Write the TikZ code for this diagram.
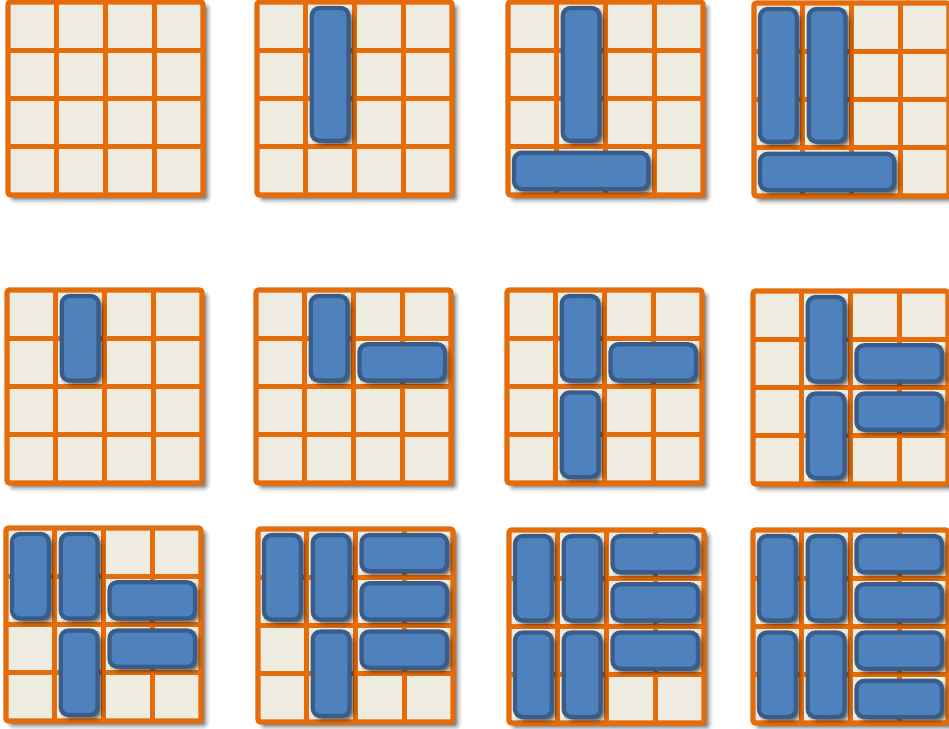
\documentclass[tikz,border=0pt]{standalone}
\usepackage{tikz}
\usetikzlibrary{shadows.blur}
\definecolor{gridorange}{HTML}{E46C0A}
\definecolor{cellbeige}{HTML}{EEEBE0}
\definecolor{tileblue}{HTML}{4F81BD}
\definecolor{tileedge}{HTML}{385D8A}

\begin{document}
\begin{tikzpicture}[
    x=0.02cm, y=-0.02cm,
    cellline/.style={draw=gridorange, line width=2.6pt},
    board/.style={fill=cellbeige, draw=gridorange, line width=3pt, rounded corners=1.5pt,
        blur shadow={shadow xshift=2.5pt, shadow yshift=-2.5pt, shadow blur radius=2.5pt, shadow opacity=60}},
    tile/.style={fill=tileblue, draw=tileedge, line width=2.4pt, rounded corners=4.5pt,
        blur shadow={shadow xshift=2pt, shadow yshift=-2pt, shadow blur radius=2pt, shadow opacity=65}},
    pics/grid4/.style={code={
        \draw[board] (0,0) rectangle (195,193);
        \foreach \k in {1,2,3} {
            \draw[cellline] ({\k*48.75},0) -- ({\k*48.75},193);
            \draw[cellline] (0,{\k*48.25}) -- (195,{\k*48.25});
        }
    }}
]
    \useasboundingbox (0,0) rectangle (949,728);

    % row 1
    \begin{scope}[shift={(8,2)}]
        \pic {grid4};
    \end{scope}
    \begin{scope}[shift={(257,2)}]
        \pic {grid4};
        \foreach \c/\r/\w/\h in {1/0/1/3}
            \draw[tile] ({\c*48.75+6},{\r*48.25+6}) rectangle ({(\c+\w)*48.75-6},{(\r+\h)*48.25-6});
    \end{scope}
    \begin{scope}[shift={(508,2)}]
        \pic {grid4};
        \foreach \c/\r/\w/\h in {1/0/1/3, 0/3/3/1}
            \draw[tile] ({\c*48.75+6},{\r*48.25+6}) rectangle ({(\c+\w)*48.75-6},{(\r+\h)*48.25-6});
    \end{scope}
    \begin{scope}[shift={(754,3)}]
        \pic {grid4};
        \foreach \c/\r/\w/\h in {0/0/1/3, 1/0/1/3, 0/3/3/1}
            \draw[tile] ({\c*48.75+6},{\r*48.25+6}) rectangle ({(\c+\w)*48.75-6},{(\r+\h)*48.25-6});
    \end{scope}

    % row 2
    \begin{scope}[shift={(7,290)}]
        \pic {grid4};
        \foreach \c/\r/\w/\h in {1/0/1/2}
            \draw[tile] ({\c*48.75+6},{\r*48.25+6}) rectangle ({(\c+\w)*48.75-6},{(\r+\h)*48.25-6});
    \end{scope}
    \begin{scope}[shift={(256,290)}]
        \pic {grid4};
        \foreach \c/\r/\w/\h in {1/0/1/2, 2/1/2/1}
            \draw[tile] ({\c*48.75+6},{\r*48.25+6}) rectangle ({(\c+\w)*48.75-6},{(\r+\h)*48.25-6});
    \end{scope}
    \begin{scope}[shift={(507,290)}]
        \pic {grid4};
        \foreach \c/\r/\w/\h in {1/0/1/2, 2/1/2/1, 1/2/1/2}
            \draw[tile] ({\c*48.75+6},{\r*48.25+6}) rectangle ({(\c+\w)*48.75-6},{(\r+\h)*48.25-6});
    \end{scope}
    \begin{scope}[shift={(753,291)}]
        \pic {grid4};
        \foreach \c/\r/\w/\h in {1/0/1/2, 2/1/2/1, 1/2/1/2, 2/2/2/1}
            \draw[tile] ({\c*48.75+6},{\r*48.25+6}) rectangle ({(\c+\w)*48.75-6},{(\r+\h)*48.25-6});
    \end{scope}

    % row 3
    \begin{scope}[shift={(6,528)}]
        \pic {grid4};
        \foreach \c/\r/\w/\h in {0/0/1/2, 1/0/1/2, 2/1/2/1, 1/2/1/2, 2/2/2/1}
            \draw[tile] ({\c*48.75+6},{\r*48.25+6}) rectangle ({(\c+\w)*48.75-6},{(\r+\h)*48.25-6});
    \end{scope}
    \begin{scope}[shift={(258,529)}]
        \pic {grid4};
        \foreach \c/\r/\w/\h in {0/0/1/2, 1/0/1/2, 2/0/2/1, 2/1/2/1, 1/2/1/2, 2/2/2/1}
            \draw[tile] ({\c*48.75+6},{\r*48.25+6}) rectangle ({(\c+\w)*48.75-6},{(\r+\h)*48.25-6});
    \end{scope}
    \begin{scope}[shift={(509,530)}]
        \pic {grid4};
        \foreach \c/\r/\w/\h in {0/0/1/2, 1/0/1/2, 2/0/2/1, 2/1/2/1, 0/2/1/2, 1/2/1/2, 2/2/2/1}
            \draw[tile] ({\c*48.75+6},{\r*48.25+6}) rectangle ({(\c+\w)*48.75-6},{(\r+\h)*48.25-6});
    \end{scope}
    \begin{scope}[shift={(753,530)}]
        \pic {grid4};
        \foreach \c/\r/\w/\h in {0/0/1/2, 1/0/1/2, 2/0/2/1, 2/1/2/1, 0/2/1/2, 1/2/1/2, 2/2/2/1, 2/3/2/1}
            \draw[tile] ({\c*48.75+6},{\r*48.25+6}) rectangle ({(\c+\w)*48.75-6},{(\r+\h)*48.25-6});
    \end{scope}
\end{tikzpicture}
\end{document}
